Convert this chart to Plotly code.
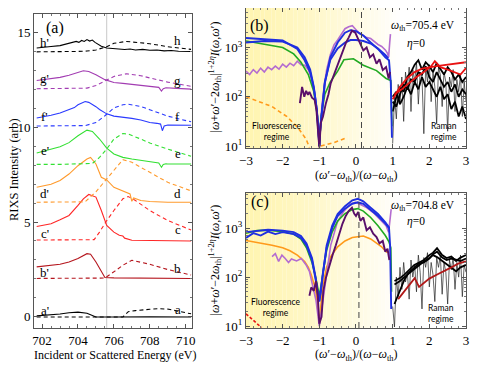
import plotly.graph_objects as go

# ---------------- panel (a): RIXS spectra (plotted values incl. offsets) ----------------
A_LABELS = ["a", "b", "c", "d", "e", "f", "g", "h"]
A_COLORS = ["black", "#b5161e", "#ff2626", "#ff9a2c", "#33e033", "#2a3aff", "#a23cb2", "black"]

# solid curves (primed labels)
H_SOL_E = [701.7, 702.0, 702.5, 703.0, 703.3, 703.6, 703.9, 704.05, 704.2, 704.35, 704.5, 704.65, 704.8, 704.95, 705.3, 705.6, 706.0, 706.3, 706.6, 706.9, 707.2, 707.6, 708.0, 708.4, 708.8, 709.2, 709.6, 710.3]
H_SOL_V = [14.2, 14.22, 14.28, 14.33, 14.4, 14.47, 14.55, 14.5, 14.6, 14.55, 14.65, 14.57, 14.62, 14.5, 14.3, 14.2, 14.17, 14.18, 14.12, 14.15, 14.1, 14.13, 14.08, 14.1, 14.05, 14.07, 14.03, 14.02]
G_SOL_E = [701.7, 702.0, 702.5, 703.0, 703.5, 704.0, 704.3, 704.6, 705.0, 705.5, 706.0, 706.5, 707.0, 707.5, 708.0, 708.5, 708.65, 708.75, 708.9, 709.0, 709.5, 710.3]
G_SOL_V = [12.48, 12.52, 12.58, 12.65, 12.76, 12.91, 13.0, 12.96, 12.79, 12.53, 12.38, 12.33, 12.28, 12.22, 12.16, 12.12, 11.93, 12.05, 12.1, 12.1, 12.07, 12.03]
F_SOL_E = [701.7, 702.0, 702.5, 703.0, 703.5, 703.8, 704.0, 704.2, 704.4, 704.6, 704.8, 705.0, 705.2, 705.6, 706.0, 706.5, 707.0, 707.5, 708.0, 708.4, 708.6, 708.7, 708.8, 709.0, 709.5, 710.3]
F_SOL_V = [10.5, 10.55, 10.65, 10.77, 10.94, 11.05, 11.2, 11.28, 11.37, 11.33, 11.22, 11.1, 10.95, 10.72, 10.6, 10.55, 10.48, 10.4, 10.26, 10.22, 10.18, 9.83, 10.08, 10.13, 10.12, 10.12]
E_SOL_E = [701.7, 702.5, 703.0, 703.5, 704.0, 704.5, 704.8, 705.2, 705.6, 706.0, 706.5, 707.0, 707.5, 708.0, 708.5, 708.65, 708.75, 708.9, 709.0, 710.3]
E_SOL_V = [8.65, 8.86, 8.98, 9.2, 9.56, 9.86, 9.79, 9.39, 8.91, 8.6, 8.42, 8.33, 8.25, 8.16, 8.12, 7.9, 8.05, 8.08, 8.07, 8.07]
D_SOL_E = [701.7, 702.5, 703.0, 703.5, 704.0, 704.5, 704.7, 705.0, 705.3, 705.6, 706.0, 706.5, 706.9, 707.0, 707.1, 707.5, 708.0, 709.0, 710.3]
D_SOL_V = [6.84, 7.0, 7.2, 7.54, 7.98, 8.33, 8.42, 8.07, 7.37, 7.23, 6.84, 6.63, 6.49, 6.1, 6.28, 6.14, 6.09, 6.05, 6.05]
C_SOL_E = [701.7, 702.5, 703.0, 703.5, 704.0, 704.3, 704.6, 705.0, 705.3, 705.6, 706.0, 706.3, 706.5, 706.6, 707.0, 708.0, 710.3]
C_SOL_V = [4.77, 4.91, 5.12, 5.35, 5.88, 6.23, 6.46, 6.32, 5.61, 4.82, 4.47, 4.3, 4.26, 4.15, 4.04, 4.02, 4.0]
B_SOL_E = [701.7, 702.5, 703.0, 703.5, 704.0, 704.5, 704.7, 705.0, 705.3, 705.5, 706.0, 710.3]
B_SOL_V = [2.63, 2.72, 2.77, 2.89, 3.07, 3.33, 3.3, 2.89, 2.37, 2.07, 2.05, 2.02]
A_SOL_E = [701.7, 702.5, 703.0, 703.5, 704.0, 704.5, 704.8, 705.0, 706.0, 707.0, 708.0, 710.3]
A_SOL_V = [0.04, 0.09, 0.14, 0.21, 0.24, 0.18, 0.04, -0.02, -0.02, 0.0, -0.01, -0.02]

# dashed curves (unprimed labels)
H_DSH_E = [701.7, 703.0, 704.0, 704.5, 705.0, 705.6, 706.0, 706.7, 707.5, 708.0, 709.0, 710.3]
H_DSH_V = [14.0, 14.0, 14.02, 14.04, 14.1, 14.27, 14.45, 14.55, 14.5, 14.43, 14.27, 14.13]
G_DSH_E = [701.7, 703.0, 704.5, 705.0, 705.6, 706.0, 706.7, 707.5, 708.0, 709.0, 710.3]
G_DSH_V = [12.05, 12.05, 12.08, 12.22, 12.53, 12.7, 12.84, 12.74, 12.62, 12.4, 12.18]
F_DSH_E = [701.7, 703.0, 704.4, 705.0, 705.5, 706.0, 706.5, 706.8, 707.5, 708.0, 709.0, 710.3]
F_DSH_V = [10.08, 10.08, 10.1, 10.26, 10.62, 11.03, 11.2, 11.23, 11.11, 10.94, 10.6, 10.3]
E_DSH_E = [701.7, 703.0, 704.8, 705.2, 705.6, 706.0, 706.5, 706.8, 707.5, 708.0, 709.0, 710.3]
E_DSH_V = [8.05, 8.05, 8.1, 8.42, 8.86, 9.39, 9.68, 9.65, 9.39, 9.18, 8.86, 8.48]
D_DSH_E = [701.7, 703.0, 704.4, 705.0, 705.6, 706.0, 706.5, 707.0, 708.0, 709.0, 710.3]
D_DSH_V = [6.05, 6.05, 6.07, 6.6, 7.28, 7.72, 8.3, 8.16, 7.63, 7.1, 6.65]
C_DSH_E = [701.7, 703.0, 704.9, 705.2, 705.6, 706.0, 706.5, 706.8, 707.2, 708.0, 709.0, 710.3]
C_DSH_V = [4.05, 4.05, 4.07, 4.47, 5.08, 5.61, 6.23, 6.35, 6.14, 5.61, 5.08, 4.58]
B_DSH_E = [701.7, 703.0, 705.5, 706.0, 706.5, 707.0, 708.0, 709.0, 710.3]
B_DSH_V = [2.02, 2.02, 2.04, 2.37, 2.72, 2.98, 2.77, 2.49, 2.2]
A_DSH_E = [701.7, 704.0, 706.5, 706.8, 707.2, 708.0, 708.5, 709.0, 709.5, 710.3]
A_DSH_V = [-0.02, -0.02, -0.02, 0.26, 0.32, 0.39, 0.42, 0.4, 0.3, 0.15]

SOLID_E = [A_SOL_E, B_SOL_E, C_SOL_E, D_SOL_E, E_SOL_E, F_SOL_E, G_SOL_E, H_SOL_E]
SOLID_V = [A_SOL_V, B_SOL_V, C_SOL_V, D_SOL_V, E_SOL_V, F_SOL_V, G_SOL_V, H_SOL_V]
DASH_E = [A_DSH_E, B_DSH_E, C_DSH_E, D_DSH_E, E_DSH_E, F_DSH_E, G_DSH_E, H_DSH_E]
DASH_V = [A_DSH_V, B_DSH_V, C_DSH_V, D_DSH_V, E_DSH_V, F_DSH_V, G_DSH_V, H_DSH_V]
# label heights (left primed / right unprimed)
LBL_LEFT_V = [0.35, 2.35, 4.4, 6.5, 8.8, 10.6, 12.6, 14.5]
LBL_RIGHT_V = [0.4, 2.55, 4.6, 6.5, 8.6, 10.6, 12.5, 14.6]
THRESH_A = 705.6

# ---------------- panel (b): omega_th = 705.4 eV (log10 of scaled intensity) ----------------
B_BLUE1_X = [-3, -2.5, -2.0, -1.6, -1.4, -1.25, -1.15, -1.07, -1.02, -1.0, -0.98, -0.93, -0.85, -0.7, -0.5, -0.3, -0.15, 0.0, 0.2, 0.4, 0.6, 0.8, 0.9, 0.95, 0.98]
B_BLUE1_L = [3.19, 3.16, 3.14, 2.97, 2.74, 2.5, 2.17, 1.74, 1.27, 1.0, 1.3, 1.74, 2.27, 2.8, 3.1, 3.3, 3.35, 3.33, 3.24, 3.1, 2.97, 2.8, 2.74, 2.27, 1.17]
B_BLUE2_X = [-3, -2.5, -2.0, -1.6, -1.4, -1.25, -1.15, -1.07, -1.02, -1.0, -0.97, -0.92, -0.85, -0.7, -0.5, -0.3, -0.15, 0.0, 0.2, 0.4, 0.6, 0.8, 0.88]
B_BLUE2_L = [3.1, 3.13, 3.12, 3.0, 2.8, 2.55, 2.2, 1.75, 1.3, 1.0, 1.4, 1.8, 2.3, 2.75, 2.98, 3.1, 3.15, 3.15, 3.13, 3.08, 2.98, 2.85, 2.78]
B_GREEN_X = [-3, -2.5, -2.0, -1.7, -1.5, -1.3, -1.15, -1.05, -1.0, -0.95, -0.85, -0.7, -0.5, -0.33, -0.07, 0.2, 0.56, 0.82, 0.95, 0.98]
B_GREEN_L = [3.13, 3.07, 3.0, 2.87, 2.7, 2.45, 2.1, 1.6, 1.0, 1.6, 2.05, 2.3, 2.52, 2.75, 2.77, 2.64, 2.53, 2.37, 2.33, 1.4]
B_LPUR_X = [-3.0, -2.9, -2.8, -2.7, -2.6, -2.5, -2.4, -2.3, -2.2, -2.1, -2.0, -1.9, -1.8, -1.7, -1.6, -1.5, -1.4, -1.3, -1.2, -1.12, -1.06, -1.02, -1.0, -0.97, -0.93, -0.87, -0.8, -0.7, -0.6, -0.5, -0.4, -0.3, -0.2, -0.1, 0.0, 0.1, 0.2, 0.3, 0.4, 0.5, 0.6, 0.7, 0.8, 0.86, 0.89, 0.92, 0.94]
B_LPUR_L = [2.52, 2.45, 2.55, 2.48, 2.58, 2.5, 2.6, 2.55, 2.62, 2.56, 2.66, 2.6, 2.68, 2.63, 2.72, 2.65, 2.64, 2.55, 2.35, 2.05, 1.7, 1.3, 1.0, 1.35, 1.8, 2.2, 2.55, 2.85, 3.05, 3.15, 3.28, 3.38, 3.42, 3.44, 3.36, 3.28, 3.24, 3.2, 3.18, 3.12, 3.06, 3.02, 2.95, 2.88, 2.8, 3.1, 3.27]
B_DPUR_X = [-1.53, -1.47, -1.41, -1.36, -1.31, -1.27, -1.2, -1.13, -1.08, -1.04, -1.0, -0.96, -0.9, -0.82, -0.75, -0.69, -0.6, -0.51, -0.42, -0.33, -0.27, -0.2, -0.11, -0.02, 0.07, 0.13, 0.2, 0.29, 0.38, 0.47, 0.56, 0.64, 0.73, 0.82, 0.89, 0.93]
B_DPUR_L = [1.87, 2.2, 2.0, 2.12, 2.04, 2.1, 1.98, 1.94, 1.74, 1.4, 0.97, 1.47, 1.6, 1.87, 2.05, 2.27, 2.45, 2.64, 2.82, 3.0, 3.1, 3.2, 3.34, 3.3, 3.14, 3.05, 2.94, 3.0, 2.8, 2.86, 2.67, 2.76, 2.54, 2.6, 2.37, 2.5]
B_ORANGE_X = [-3.0, -2.29, -1.89, -1.58, -1.36, -1.27, None, -0.96, -0.6, -0.24]
B_ORANGE_L = [2.0, 1.8, 1.6, 1.37, 1.14, 0.97, None, 1.0, 1.07, 1.17]
B_RED1_X = [1.0, 1.2, 1.4, 1.6, 1.8, 2.0, 2.2, 2.4, 2.6, 2.8, 3.0]
B_RED1_L = [1.95, 2.2, 2.38, 2.5, 2.57, 2.6, 2.62, 2.64, 2.66, 2.68, 2.7]
B_RED2_X = [1.05, 1.25, 1.45, 1.65, 1.85, 2.05, 2.15, 2.3, 2.5, 2.7, 2.85, 3.0]
B_RED2_L = [2.05, 2.15, 2.28, 2.4, 2.5, 2.62, 2.72, 2.6, 2.55, 2.5, 2.45, 2.58]
RAMAN_X = [1.0, 1.1, 1.2, 1.3, 1.4, 1.5, 1.6, 1.7, 1.8, 1.9, 2.0, 2.1, 2.2, 2.3, 2.4, 2.5, 2.6, 2.7, 2.8, 2.9, 3.0]
B_BK1_L = [1.7, 2.0, 2.2, 2.1, 2.4, 2.5, 2.65, 2.74, 2.55, 2.7, 2.62, 2.5, 2.68, 2.55, 2.45, 2.6, 2.5, 2.35, 2.45, 2.3, 2.4]
B_BK2_L = [1.9, 1.8, 2.05, 2.25, 2.15, 2.35, 2.3, 2.5, 2.45, 2.62, 2.4, 2.3, 2.5, 2.35, 2.2, 2.3, 2.1, 2.25, 2.0, 2.15, 2.05]
B_BK3_L = [2.0, 2.1, 1.85, 2.0, 2.2, 2.05, 2.3, 2.15, 2.4, 2.2, 2.3, 2.15, 2.0, 2.2, 1.95, 2.05, 1.75, 1.9, 1.6, 1.8, 1.55]
THIN_X = [1.0, 1.05, 1.1, 1.15, 1.2, 1.25, 1.3, 1.35, 1.4, 1.45, 1.5, 1.55, 1.6, 1.65, 1.7, 1.75, 1.8, 1.85, 1.9, 1.95, 2.0,
          2.05, 2.1, 2.15, 2.2, 2.25, 2.3, 2.35, 2.4, 2.45, 2.5, 2.55, 2.6, 2.65, 2.7, 2.75, 2.8, 2.85, 2.9, 2.95, 3.0]
B_THIN_L = [1.05, 2.0, 1.55, 2.25, 1.85, 2.4, 1.5, 2.5, 2.15, 2.6, 1.7, 2.55, 2.3, 2.7, 1.85, 2.5, 2.4, 1.25, 2.6, 2.3, 2.65,
            1.9, 2.5, 2.2, 1.45, 2.6, 2.45, 1.8, 2.5, 2.3, 1.3, 2.4, 2.2, 2.55, 1.7, 2.35, 2.1, 2.45, 1.6, 2.3, 1.9]
B_DASHLINE_X = 0.15

# ---------------- panel (c): omega_th = 704.8 eV ----------------
C_BLUE1_X = [-3, -2.7, -2.4, -2.0, -1.7, -1.5, -1.35, -1.2, -1.1, -1.04, -1.0, -0.96, -0.9, -0.8, -0.65, -0.5, -0.3, -0.1, 0.05, 0.2, 0.4, 0.6, 0.8, 0.9, 0.93, 0.96]
C_BLUE1_L = [2.92, 2.95, 2.97, 2.95, 2.92, 2.84, 2.69, 2.39, 1.99, 1.65, 1.52, 1.72, 2.12, 2.65, 3.05, 3.29, 3.45, 3.57, 3.6, 3.55, 3.42, 3.29, 3.12, 3.02, 2.65, 1.35]
C_BLUE2_X = [-3, -2.8, -2.6, -2.4, -2.2, -2.0, -1.7, -1.5, -1.35, -1.2, -1.1, -1.04, -1.0, -0.96, -0.9, -0.8, -0.65, -0.5, -0.3, -0.1, 0.05, 0.2, 0.4, 0.6, 0.8, 0.9]
C_BLUE2_L = [2.8, 2.9, 2.85, 2.93, 2.88, 2.92, 2.88, 2.8, 2.65, 2.35, 1.95, 1.62, 1.5, 1.7, 2.1, 2.6, 3.0, 3.25, 3.4, 3.5, 3.53, 3.5, 3.38, 3.25, 3.1, 3.0]
C_GREEN_X = [-3, -2.7, -2.4, -2.0, -1.7, -1.5, -1.35, -1.2, -1.1, -1.04, -1.0, -0.96, -0.9, -0.8, -0.65, -0.5, -0.3, -0.1, 0.05, 0.2, 0.4, 0.6, 0.8, 0.9, 0.95, 0.97]
C_GREEN_L = [2.9, 2.95, 2.96, 2.93, 2.88, 2.78, 2.6, 2.3, 2.0, 1.75, 1.62, 1.8, 2.1, 2.55, 2.92, 3.15, 3.3, 3.38, 3.4, 3.35, 3.22, 3.05, 2.85, 2.72, 2.6, 1.7]
C_ORANGE_X = [-3, -2.6, -2.29, -2.0, -1.8, -1.6, -1.4, -1.3, -1.22, -1.1, -1.04, -1.0, -0.96, -0.9, -0.8, -0.69, -0.5, -0.3, -0.1, 0.2, 0.4, 0.56, 0.7, 0.78, 0.86]
C_ORANGE_L = [2.75, 2.7, 2.65, 2.6, 2.54, 2.45, 2.32, 2.2, 2.05, 1.75, 1.4, 1.05, 1.4, 1.85, 2.2, 2.42, 2.62, 2.74, 2.81, 2.84, 2.78, 2.69, 2.62, 2.55, 2.5]
C_LPUR_X = [-2.29, -2.2, -2.11, -2.02, -1.93, -1.84, -1.76, -1.62, -1.49, -1.36, -1.27, -1.18, -1.09, -1.0, -0.91, -0.82, -0.69, -0.51, -0.33, -0.16, -0.02, 0.11, 0.29, 0.47, 0.64, 0.82, 0.89, 0.93, 0.96]
C_LPUR_L = [2.42, 2.48, 2.32, 2.45, 2.38, 2.3, 2.37, 2.33, 2.38, 2.25, 2.12, 1.85, 1.52, 1.0, 1.45, 2.0, 2.65, 3.12, 3.35, 3.49, 3.53, 3.49, 3.42, 3.32, 3.19, 3.05, 2.92, 3.19, 3.39]
C_DPUR_X = [-1.27, -1.22, -1.15, -1.09, -1.04, -1.0, -0.94, -0.89, -0.82, -0.73, -0.64, -0.55, -0.46, -0.37, -0.28, -0.2, -0.11, -0.05, 0.0, 0.06, 0.12, 0.2, 0.29, 0.38, 0.47, 0.56, 0.64, 0.73, 0.8, 0.86, 0.91]
C_DPUR_L = [1.62, 1.79, 1.72, 1.92, 1.59, 1.05, 1.19, 1.72, 1.99, 2.25, 2.45, 2.65, 2.89, 3.09, 3.25, 3.35, 3.42, 3.3, 3.25, 3.33, 3.15, 3.22, 2.96, 3.02, 2.89, 2.82, 2.69, 2.74, 2.52, 2.58, 2.35]
C_REDD_X = [-3.0, -2.85, -2.7, -2.58]
C_REDD_L = [1.25, 1.15, 1.05, 0.97]
C_DRED_X = [1.15, 1.3, 1.45, 1.6, 1.72, 1.85, 2.0, 2.2, 2.4, 2.6, 2.8, 3.0]
C_DRED_L = [1.55, 1.7, 1.85, 1.98, 1.8, 1.88, 1.97, 2.05, 2.12, 2.2, 2.28, 2.32]
C_RAMAN_X = [1.05, 1.2, 1.32, 1.45, 1.59, 1.72, 1.85, 2.0, 2.1, 2.21, 2.35, 2.47, 2.6, 2.73, 2.85, 3.0]
C_BK1_L = [1.92, 1.98, 2.05, 2.15, 2.25, 2.3, 2.35, 2.45, 2.5, 2.59, 2.45, 2.39, 2.42, 2.33, 2.4, 2.45]
C_BK2_L = [1.85, 1.92, 2.0, 2.08, 2.15, 2.25, 2.32, 2.39, 2.45, 2.41, 2.33, 2.25, 2.18, 2.12, 2.2, 2.25]
C_BK3_L = [1.45, 1.75, 1.95, 2.1, 2.2, 2.28, 2.3, 2.38, 2.47, 2.52, 2.4, 2.35, 2.38, 2.36, 2.33, 2.38]
C_THIN_L = [1.4, 0.98, 2.0, 1.6, 2.2, 1.75, 2.3, 1.9, 2.1, 1.55, 2.35, 2.0, 2.25, 1.7, 2.45, 2.1, 1.35, 2.4, 2.2, 2.5, 1.8,
            2.3, 2.05, 1.5, 2.4, 2.2, 2.45, 1.65, 2.3, 2.1, 1.45, 2.35, 2.15, 2.4, 1.75, 2.3, 2.0, 2.45, 1.6, 2.25, 2.1]
C_DASHLINE_X = 0.08

# tick labels
A_XTICKS = [702, 704, 706, 708, 710]
A_YTICKS = [0, 5, 10, 15]
LOG_TICKVALS = [10, 100, 1000]
LOG_TICKTEXT = ["10<sup>1</sup>", "10<sup>2</sup>", "10<sup>3</sup>"]
LOG_MINOR = [20, 30, 40, 50, 60, 70, 80, 90, 200, 300, 400, 500, 600, 700, 800, 900, 2000, 3000, 4000, 5000]
R_XTICKS = [-3, -2, -1, 0, 1, 2, 3]

BLUE = "#1f2fe0"
GREEN = "#22aa22"
LPUR = "#b46cd0"
DPUR = "#5a0f6a"
ORANGE = "#ff9a1a"
RED = "#e81212"
DRED = "#b01818"
SERIF = "Liberation Serif"
SANS = "Lato"


def exp10(vals):
    return [None if v is None else 10 ** v for v in vals]


def add_line(fig, x, y, color, width=1.0, dash="solid", xa="x", ya="y"):
    fig.add_trace(go.Scatter(
        x=x, y=y, mode="lines", xaxis=xa, yaxis=ya,
        line=dict(color=color, width=width, dash=dash),
        showlegend=False, hoverinfo="skip", connectgaps=False
    ))
    return fig


fig = go.Figure()

# ---- panel (a)
for i, lab in enumerate(A_LABELS):
    add_line(fig, DASH_E[i], DASH_V[i], A_COLORS[i], width=1.1, dash="4px,3px")
    add_line(fig, SOLID_E[i], SOLID_V[i], A_COLORS[i], width=1.1)
    fig.add_annotation(x=702.15, y=LBL_LEFT_V[i], text=lab + "'", showarrow=False,
                       xref="x", yref="y", xanchor="center", yanchor="middle",
                       font=dict(family=SERIF, size=13, color="black"))
    fig.add_annotation(x=709.55, y=LBL_RIGHT_V[i], text=lab, showarrow=False,
                       xref="x", yref="y", xanchor="center", yanchor="middle",
                       font=dict(family=SERIF, size=13, color="black"))

fig.add_shape(type="line", xref="x", yref="y domain", x0=THRESH_A, x1=THRESH_A, y0=0, y1=1,
              line=dict(color="#c8c8c8", width=1), layer="below")

# ---- yellow gradient backgrounds for (b) and (c)
n_strips = 45
for k in range(n_strips):
    x0 = -3 + k * 0.1
    t = min(1.0, (k + 0.5) / 42.0) ** 1.4
    col = "rgb(255,%d,%d)" % (int(245 + 10 * t), int(178 + 77 * t))
    for xr, yr in (("x2", "y2 domain"), ("x3", "y3 domain")):
        fig.add_shape(type="rect", xref=xr, yref=yr, x0=x0, x1=x0 + 0.1, y0=0, y1=1,
                      fillcolor=col, line=dict(width=0), layer="below")

# ---- panel (b)
xa, ya = "x2", "y2"
add_line(fig, B_ORANGE_X, exp10(B_ORANGE_L), ORANGE, 1.6, "4px,3px", xa, ya)
add_line(fig, THIN_X, exp10(B_THIN_L), "#222222", 0.7, xa=xa, ya=ya)
add_line(fig, RAMAN_X, exp10(B_BK3_L), "black", 1.8, xa=xa, ya=ya)
add_line(fig, RAMAN_X, exp10(B_BK2_L), "black", 1.8, xa=xa, ya=ya)
add_line(fig, RAMAN_X, exp10(B_BK1_L), "black", 1.8, xa=xa, ya=ya)
add_line(fig, B_RED1_X, exp10(B_RED1_L), RED, 1.8, xa=xa, ya=ya)
add_line(fig, B_RED2_X, exp10(B_RED2_L), RED, 1.8, xa=xa, ya=ya)
add_line(fig, B_LPUR_X, exp10(B_LPUR_L), LPUR, 1.6, xa=xa, ya=ya)
add_line(fig, B_GREEN_X, exp10(B_GREEN_L), GREEN, 1.6, xa=xa, ya=ya)
add_line(fig, B_BLUE2_X, exp10(B_BLUE2_L), BLUE, 1.9, xa=xa, ya=ya)
add_line(fig, B_BLUE1_X, exp10(B_BLUE1_L), BLUE, 1.9, xa=xa, ya=ya)
add_line(fig, B_DPUR_X, exp10(B_DPUR_L), DPUR, 1.9, xa=xa, ya=ya)
fig.add_shape(type="line", xref="x2", yref="y2 domain", x0=B_DASHLINE_X, x1=B_DASHLINE_X, y0=0, y1=1,
              line=dict(color="#444444", width=1, dash="6px,4px"))

# ---- panel (c)
xa, ya = "x3", "y3"
add_line(fig, C_REDD_X, exp10(C_REDD_L), RED, 1.6, "3px,2px", xa, ya)
add_line(fig, THIN_X, exp10(C_THIN_L), "#222222", 0.7, xa=xa, ya=ya)
add_line(fig, C_RAMAN_X, exp10(C_BK3_L), "black", 1.8, xa=xa, ya=ya)
add_line(fig, C_RAMAN_X, exp10(C_BK2_L), "black", 1.8, xa=xa, ya=ya)
add_line(fig, C_RAMAN_X, exp10(C_BK1_L), "black", 1.8, xa=xa, ya=ya)
add_line(fig, C_DRED_X, exp10(C_DRED_L), DRED, 1.8, xa=xa, ya=ya)
add_line(fig, C_ORANGE_X, exp10(C_ORANGE_L), ORANGE, 1.6, xa=xa, ya=ya)
add_line(fig, C_LPUR_X, exp10(C_LPUR_L), LPUR, 1.6, xa=xa, ya=ya)
add_line(fig, C_GREEN_X, exp10(C_GREEN_L), GREEN, 1.6, xa=xa, ya=ya)
add_line(fig, C_BLUE2_X, exp10(C_BLUE2_L), BLUE, 1.9, xa=xa, ya=ya)
add_line(fig, C_BLUE1_X, exp10(C_BLUE1_L), BLUE, 1.9, xa=xa, ya=ya)
add_line(fig, C_DPUR_X, exp10(C_DPUR_L), DPUR, 1.9, xa=xa, ya=ya)
fig.add_shape(type="line", xref="x3", yref="y3 domain", x0=C_DASHLINE_X, x1=C_DASHLINE_X, y0=0, y1=1,
              line=dict(color="#444444", width=1, dash="6px,4px"))


# ---- text annotations
def note(text, x, y, xref, yref, size=12, family=SERIF, **kw):
    fig.add_annotation(text=text, x=x, y=y, xref=xref, yref=yref, showarrow=False,
                       xanchor="center", yanchor="middle",
                       font=dict(family=family, size=size, color="black"), **kw)


note("(a)", 0.13, 0.955, "x domain", "y domain", size=16)
note("(b)", 0.062, 0.87, "x2 domain", "y2 domain", size=16)
note("(c)", 0.062, 0.93, "x3 domain", "y3 domain", size=16)
note("<i>ω</i><sub>th</sub>=705.4 eV", 0.805, 0.87, "x2 domain", "y2 domain", size=11.5)
note("<i>η</i>=0", 0.775, 0.75, "x2 domain", "y2 domain", size=11.5)
note("<i>ω</i><sub>th</sub>=704.8 eV", 0.805, 0.90, "x3 domain", "y3 domain", size=11.5)
note("<i>η</i>=0", 0.775, 0.79, "x3 domain", "y3 domain", size=11.5)
note("Fluorescence<br>regime", 0.142, 0.12, "x2 domain", "y2 domain", size=8.5, family=SANS)
note("Raman<br>regime", 0.9, 0.12, "x2 domain", "y2 domain", size=8.5, family=SANS)
note("Fluorescence<br>regime", 0.138, 0.155, "x3 domain", "y3 domain", size=8.5, family=SANS)
note("Raman<br>regime", 0.886, 0.11, "x3 domain", "y3 domain", size=8.5, family=SANS)

# axis titles (paper coords)
note("RIXS Intensity (arb)", -0.046, 0.494, "paper", "paper", size=12.5, textangle=-90)
note("Incident or Scattered Energy (eV)", 0.1875, -0.0844, "paper", "paper", size=12)
xt = "(<i>ω</i>′−<i>ω</i><sub>th</sub>)/(<i>ω</i>−<i>ω</i><sub>th</sub>)"
note(xt, 0.745, 0.475, "paper", "paper", size=12)
note(xt, 0.745, -0.0844, "paper", "paper", size=12)
yt = "|<i>ω</i>+<i>ω</i>′−2<i>ω</i><sub>th</sub>|<sup>1+2<i>η</i></sup><i>I</i>(<i>ω</i>,<i>ω</i>′)"
note(yt, 0.419, 0.783, "paper", "paper", size=12, textangle=-90)
note(yt, 0.419, 0.211, "paper", "paper", size=12, textangle=-90)

axis_style = dict(showline=True, linecolor="#555555", linewidth=1, mirror="ticks", ticks="inside",
                  ticklen=4, tickcolor="#555555", showgrid=False, zeroline=False,
                  tickfont=dict(family=SERIF, size=13, color="black"))
minor_x = dict(ticks="inside", ticklen=2, tickcolor="#777777", showgrid=False)

# the page body adds an 8px margin; keep the canvas inside the 478x372 window (no scrollbars)
fig.update_layout(
    width=462, height=356,
    margin=dict(l=26, r=4, t=0, b=36),
    paper_bgcolor="white", plot_bgcolor="rgba(0,0,0,0)",
    showlegend=False,
    xaxis=dict(domain=[0, 0.3657], range=[701.55, 710.35], anchor="y", tickvals=A_XTICKS,
               minor=dict(dtick=0.5, **minor_x), **axis_style),
    yaxis=dict(domain=[0, 0.98125], range=[-0.6, 16], anchor="x", tickvals=A_YTICKS,
               minor=dict(dtick=1, **minor_x), **axis_style),
    xaxis2=dict(domain=[0.4907, 1.0], range=[-3, 3], anchor="y2", tickvals=R_XTICKS,
                minor=dict(dtick=0.2, **minor_x), **axis_style),
    yaxis2=dict(domain=[0.5625, 1.0], type="log", range=[0.96, 3.8], anchor="x2",
                tickvals=LOG_TICKVALS, ticktext=LOG_TICKTEXT,
                minor=dict(tickvals=LOG_MINOR, **minor_x), **axis_style),
    xaxis3=dict(domain=[0.4907, 1.0], range=[-3, 3], anchor="y3", tickvals=R_XTICKS,
                minor=dict(dtick=0.2, **minor_x), **axis_style),
    yaxis3=dict(domain=[0, 0.4219], type="log", range=[0.96, 3.72], anchor="x3",
                tickvals=LOG_TICKVALS, ticktext=LOG_TICKTEXT,
                minor=dict(tickvals=LOG_MINOR, **minor_x), **axis_style),
)

fig.write_html("out.html")
